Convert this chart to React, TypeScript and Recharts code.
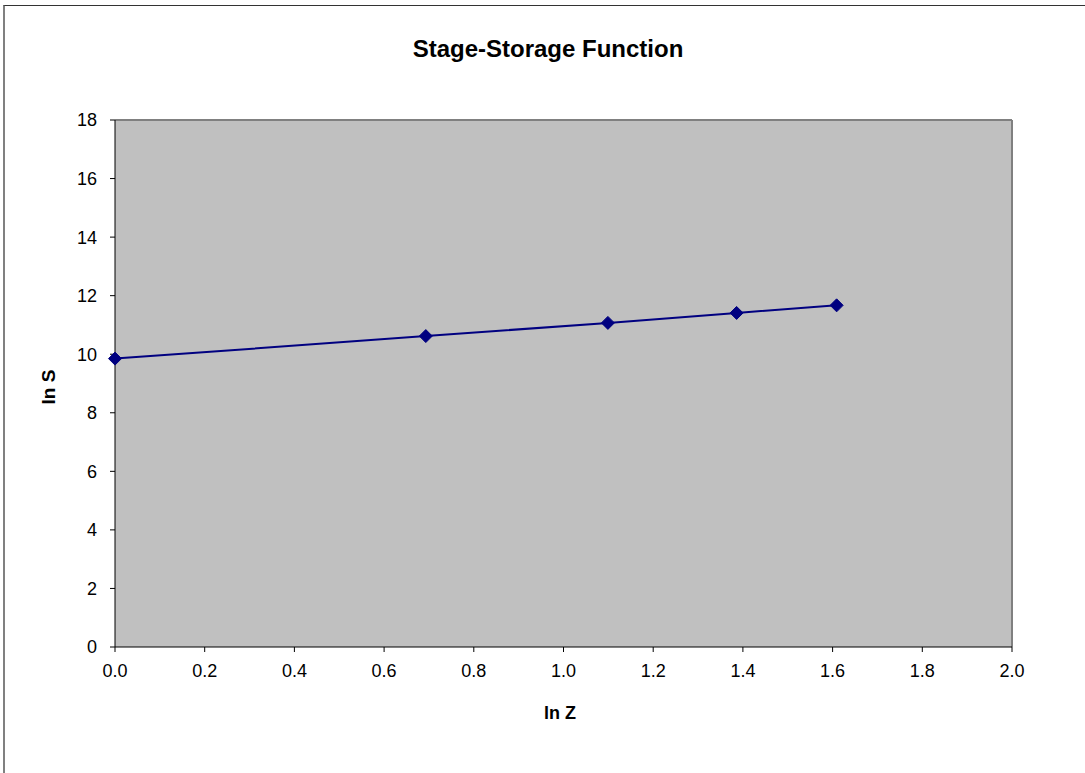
import React from 'react'
import { LineChart, Line, XAxis, YAxis, CartesianGrid, ReferenceLine } from 'recharts'

// ln Z (stage) vs ln S (storage)
const lnZ = [0, 0.693, 1.099, 1.386, 1.609]
const lnS = [9.85, 10.62, 11.07, 11.41, 11.67]
const xTicks = [0, 0.2, 0.4, 0.6, 0.8, 1.0, 1.2, 1.4, 1.6, 1.8, 2.0]
const yTicks = [0, 2, 4, 6, 8, 10, 12, 14, 16, 18]

const data = lnZ.map((x, i) => ({ x, y: lnS[i] }))

const font = 'Arial, "Liberation Sans", sans-serif'
const navy = '#000080'

function Diamond(props: any) {
  const { cx, cy } = props
  if (cx == null || cy == null) return null
  const r = 6.5
  return <polygon points={`${cx},${cy - r} ${cx + r},${cy} ${cx},${cy + r} ${cx - r},${cy}`} fill={navy} stroke={navy} />
}

export default function App() {
  return (
    <div style={{ position: 'absolute', left: 0, top: 0, width: 1085, height: 773, overflow: 'hidden', background: '#fff', fontFamily: font }}>
      <div style={{ position: 'absolute', left: 3, top: 5, width: 1100, height: 800, borderLeft: '2px solid #808080', borderTop: '1px solid #333' }} />
      <div style={{ position: 'absolute', left: 0, top: 35, width: 1096, textAlign: 'center', fontSize: 24, fontWeight: 'bold', color: '#000' }}>
        Stage-Storage Function
      </div>
      <div style={{ position: 'absolute', left: 49, top: 387, transform: 'translate(-50%, -50%) rotate(-90deg)', fontSize: 19, fontWeight: 'bold', whiteSpace: 'nowrap' }}>
        ln S
      </div>
      <div style={{ position: 'absolute', left: 560, top: 713, transform: 'translate(-50%, -50%)', fontSize: 18, fontWeight: 'bold', whiteSpace: 'nowrap' }}>
        ln Z
      </div>
      <div style={{ position: 'absolute', left: 0, top: 0 }}>
        <LineChart width={1085} height={773} data={data} margin={{ top: 120, right: 73, bottom: 0, left: 0 }}>
          <CartesianGrid fill="#c0c0c0" horizontal={false} vertical={false} />
          <XAxis
            dataKey="x"
            type="number"
            domain={[0, 2]}
            ticks={xTicks}
            tickFormatter={(v) => Number(v).toFixed(1)}
            height={126}
            stroke="#000"
            tickSize={5}
            tickMargin={12}
            tick={{ fill: '#000', fontSize: 18, fontFamily: font }}
            interval={0}
          />
          <YAxis
            type="number"
            domain={[0, 18]}
            ticks={yTicks}
            width={115}
            stroke="#000"
            tickSize={5}
            tickMargin={13}
            tick={{ fill: '#000', fontSize: 18, fontFamily: font }}
            interval={0}
          />
          <ReferenceLine y={18} stroke="#808080" strokeWidth={2} />
          <ReferenceLine x={2} stroke="#808080" strokeWidth={2} />
          <Line
            type="linear"
            dataKey="y"
            stroke={navy}
            strokeWidth={2}
            dot={<Diamond />}
            activeDot={false}
            isAnimationActive={false}
          />
        </LineChart>
      </div>
    </div>
  )
}
